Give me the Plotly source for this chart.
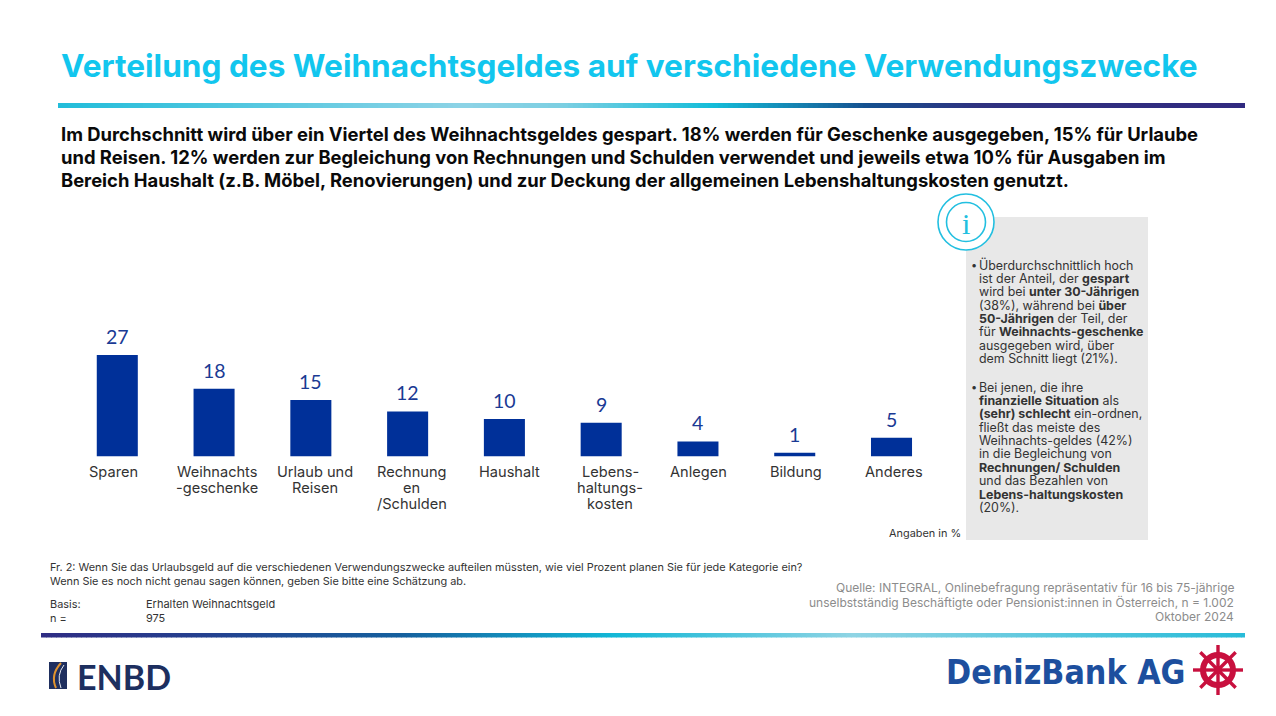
import math
import plotly.graph_objects as go

W, H = 1276, 716
BODY = "Inter"
LABEL = "Lato"

categories = ["Sparen", "Weihnachts-geschenke", "Urlaub und Reisen", "Rechnungen/Schulden",
              "Haushalt", "Lebens-haltungs-kosten", "Anlegen", "Bildung", "Anderes"]
values = [27, 18, 15, 12, 10, 9, 4, 1, 5]
tick_lines = [["Sparen"], ["Weihnachts", "-geschenke"], ["Urlaub und", "Reisen"],
              ["Rechnung", "en", "/Schulden"], ["Haushalt"], ["Lebens-", "haltungs-", "kosten"],
              ["Anlegen"], ["Bildung"], ["Anderes"]]
tick_shift = [-4, 3, 4.5, 4, 5.5, 9, 1, 1, 2]

title = "Verteilung des Weihnachtsgeldes auf verschiedene Verwendungszwecke"
intro = [
    "Im Durchschnitt wird über ein Viertel des Weihnachtsgeldes gespart. 18% werden für Geschenke ausgegeben, 15% für Urlaube",
    "und Reisen. 12% werden zur Begleichung von Rechnungen und Schulden verwendet und jeweils etwa 10% für Ausgaben im",
    "Bereich Haushalt (z.B. Möbel, Renovierungen) und zur Deckung der allgemeinen Lebenshaltungskosten genutzt.",
]
side_a = [
    "Überdurchschnittlich hoch", "ist der Anteil, der <b>gespart</b>", "wird bei <b>unter 30-Jährigen</b>",
    "(38%), während bei <b>über</b>", "<b>50-Jährigen</b> der Teil, der", "für <b>Weihnachts-geschenke</b>",
    "ausgegeben wird, über", "dem Schnitt liegt (21%).",
]
side_b = [
    "Bei jenen, die ihre", "<b>finanzielle Situation</b> als", "<b>(sehr) schlecht</b> ein-ordnen,",
    "fließt das meiste des", "Weihnachts-geldes (42%)", "in die Begleichung von",
    "<b>Rechnungen/ Schulden</b>", "und das Bezahlen von", "<b>Lebens-haltungskosten</b>", "(20%).",
]
question = [
    "Fr. 2: Wenn Sie das Urlaubsgeld auf die verschiedenen Verwendungszwecke aufteilen müssten, wie viel Prozent planen Sie für jede Kategorie ein?",
    "Wenn Sie es noch nicht genau sagen können, geben Sie bitte eine Schätzung ab.",
]
source = [
    "Quelle: INTEGRAL, Onlinebefragung repräsentativ für 16 bis 75-jährige",
    "unselbstständig Beschäftigte oder Pensionist:innen in Österreich, n = 1.002",
    "Oktober 2024",
]

def fx(x): return x / W
def fy(y): return 1 - y / H

annotations, shapes = [], []
PAD = 2

def text(x, y, s, size, color, anchor="left", family=BODY, **font):
    x = x - PAD if anchor == "left" else x + PAD if anchor == "right" else x
    annotations.append(dict(xref="paper", yref="paper", x=fx(x), y=fy(y), text=s, showarrow=False,
                            xanchor=anchor, yanchor="middle", align=anchor,
                            font=dict(size=size, color=color, family=family, **font)))

def rect(x0, y0, x1, y1, color, layer="below"):
    shapes.append(dict(type="rect", xref="paper", yref="paper", x0=fx(x0), x1=fx(x1), y0=fy(y0), y1=fy(y1),
                       fillcolor=color, line_width=0, layer=layer))

def hexrgb(c): return [int(c[i:i+2], 16) for i in (1, 3, 5)]

def gradient(x0, x1, y0, y1, stops, step=5):
    x = x0
    while x < x1:
        for (a, ca), (b, cb) in zip(stops, stops[1:]):
            if a <= x <= b:
                t = (x - a) / (b - a)
                rgb = [round(p + (q - p) * t) for p, q in zip(hexrgb(ca), hexrgb(cb))]
                break
        rect(x, y0, min(x + step + 0.6, x1), y1, "rgb(%d,%d,%d)" % tuple(rgb))
        x += step

gradient(58, 1245, 103, 108, [(58, "#22bdda"), (460, "#8dd3e6"), (560, "#7ccfe2"), (710, "#14bdd9"),
                              (865, "#15508f"), (975, "#2f3280"), (1245, "#312a80")])
gradient(41, 1245, 633, 637.5, [(41, "#2f2d84"), (200, "#24408f"), (400, "#15609e"), (610, "#12b7d6"),
                                (850, "#8fd4e4"), (1245, "#27bbd8")])

text(61, 65, "<b>" + title + "</b>", 31.6, "#12c6ee")
for i, line in enumerate(intro):
    text(61, 134 + 23 * i, "<b>" + line + "</b>", 18.4, "#0a0a0a")

# info panel
rect(966, 217, 1148, 540, "#e8e8e8")
for r, w in ((28, 1.6), (19.5, 1.6)):
    shapes.append(dict(type="circle", xref="paper", yref="paper", x0=fx(966 - r), x1=fx(966 + r),
                       y0=fy(222 + r), y1=fy(222 - r), line=dict(color="#22bfe0", width=w),
                       fillcolor="white" if r == 28 else "rgba(0,0,0,0)", layer="below"))
text(966, 223, "i", 30, "#22bfe0", "center", "Liberation Serif")

for block, ys in ((side_a, 265), (side_b, 387)):
    text(971, ys, "•", 11, "#333333")
    for i, line in enumerate(block):
        text(979, ys + 13.38 * i, line, 12.4, "#333333")

text(961, 533, "Angaben in %", 10.9, "#333333", "right")
for i, line in enumerate(question):
    text(50, 567 + 14 * i, line, 10.9, "#333333")
text(50, 604, "Basis:", 10.9, "#333333")
text(146, 604, "Erhalten Weihnachtsgeld", 11, "#333333")
text(50, 617.5, "n =", 10.9, "#333333")
text(146, 617.5, "975", 10.9, "#333333")
for i, line in enumerate(source):
    text(1234, 587.5 + 14.7 * i, line, 12, "#8c8c8c", "right")

# ENBD logo
rect(49, 662, 67, 689, "#1f2f5f", "above")
shapes.append(dict(type="path", xref="paper", yref="paper", layer="above",
                   path="M %f %f Q %f %f %f %f" % (fx(61), fy(663), fx(50), fy(675), fx(56), fy(688)),
                   line=dict(color="#e0932f", width=2)))
shapes.append(dict(type="path", xref="paper", yref="paper", layer="above",
                   path="M %f %f Q %f %f %f %f" % (fx(64), fy(665), fx(56), fy(675), fx(61), fy(688)),
                   line=dict(color="#e8edf3", width=1)))
text(77, 676, "<b>ENBD</b>", 34, "#1d2f5f", family="Lato")

# DenizBank logo
text(946, 672, "<b>DenizBank AG</b>", 33.7, "#1d4f9e", family="DejaVu Sans Condensed")
cx, cy = 1218, 670
WHEEL = "#c8103e"
for k in range(8):
    a = k * math.pi / 4
    shapes.append(dict(type="line", xref="paper", yref="paper", layer="above",
                       x0=fx(cx), y0=fy(cy), x1=fx(cx + 25 * math.cos(a)), y1=fy(cy + 25 * math.sin(a)),
                       line=dict(color=WHEEL, width=3.4)))
shapes.append(dict(type="circle", xref="paper", yref="paper", layer="above",
                   x0=fx(cx - 15), x1=fx(cx + 15), y0=fy(cy + 15), y1=fy(cy - 15),
                   line=dict(color=WHEEL, width=6)))
shapes.append(dict(type="circle", xref="paper", yref="paper", layer="above",
                   x0=fx(cx - 4), x1=fx(cx + 4), y0=fy(cy + 4), y1=fy(cy - 4),
                   fillcolor=WHEEL, line_width=0))

# chart labels, placed through the chart's own axes
for c, v, lines, dx in zip(categories, values, tick_lines, tick_shift):
    annotations.append(dict(x=c, y=v, xref="x", yref="y", text=str(v), showarrow=False, yanchor="bottom",
                            yshift=5, font=dict(size=19.5, color="#1a3a94", family=LABEL)))
    for i, line in enumerate(lines):
        annotations.append(dict(x=c, y=0, xref="x", yref="y", text=line, showarrow=False, yanchor="middle",
                                xshift=dx, yshift=-(15.5 + 16 * i),
                                font=dict(size=14.6, color="#333333", family=BODY)))

fig = go.Figure(go.Bar(x=categories, y=values, marker=dict(color="#003099", line_width=0), width=0.424))
fig.update_layout(
    width=W, height=H, margin=dict(l=0, r=0, t=0, b=0, pad=0), paper_bgcolor="white", plot_bgcolor="white",
    showlegend=False, shapes=shapes, annotations=annotations,
    xaxis=dict(domain=[68.9 / W, 939.9 / W], showticklabels=False, ticks="", showgrid=False, zeroline=False,
               showline=False, type="category"),
    yaxis=dict(domain=[1 - 456.5 / H, 1 - 330 / H], range=[0, 126.5 / 3.76], showticklabels=False, ticks="",
               showgrid=False, zeroline=False, showline=False),
)
fig.write_html("out.html", post_script="document.body.style.margin='0';document.body.style.overflow='hidden';",
               config={"displayModeBar": False})
